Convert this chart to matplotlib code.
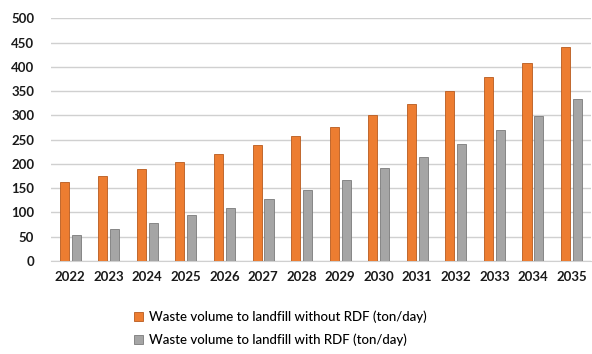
import numpy as np
import matplotlib.pyplot as plt

years = ['2022', '2023', '2024', '2025', '2026', '2027', '2028',
         '2029', '2030', '2031', '2032', '2033', '2034', '2035']
without_rdf = [162, 176, 189, 204, 220, 238, 257, 277, 300, 324, 350, 379, 408, 442]
with_rdf = [53, 66, 79, 95, 110, 128, 147, 167, 191, 215, 241, 270, 298, 333]

label_without = 'Waste volume to landfill without RDF (ton/day)'
label_with = 'Waste volume to landfill with RDF (ton/day)'

plt.rcParams['font.family'] = ['Lato', 'DejaVu Sans']

fig = plt.figure(figsize=(5.92, 3.54), dpi=100)
ax = fig.add_axes([0.086, 0.263, 0.912, 0.685])

x = np.arange(len(years))
w = 0.235
off = 0.155
ax.bar(x - off, without_rdf, w, color='#ED7D31', edgecolor='#B85A1E', linewidth=0.6,
       label=label_without, zorder=3)
ax.bar(x + off, with_rdf, w, color='#A5A5A5', edgecolor='#7A7A7A', linewidth=0.6,
       label=label_with, zorder=3)

ax.set_xlim(-0.5, len(years) - 0.5)
ax.set_ylim(0, 500)
ax.set_yticks(range(0, 501, 50))
ax.set_xticks(x)
ax.set_xticklabels(years)
ax.grid(axis='y', color='#d0d0d0', linewidth=1.0, zorder=0)
for s in ['top', 'right', 'left']:
    ax.spines[s].set_visible(False)
ax.spines['bottom'].set_color('#d0d0d0')
ax.tick_params(axis='both', length=0, labelsize=9.5, colors='#1a1a1a')
ax.tick_params(axis='y', pad=12)
ax.tick_params(axis='x', pad=7)
for t in ax.get_xticklabels() + ax.get_yticklabels():
    t.set_fontweight('bold')

fig.legend(loc='upper left', bbox_to_anchor=(0.218, 0.138), frameon=False,
           prop={'size': 9.5, 'weight': 'medium'},
           handlelength=0.65, handleheight=0.65, handletextpad=0.45,
           labelspacing=0.8, borderaxespad=0)

fig.savefig('out.png', dpi=100)
